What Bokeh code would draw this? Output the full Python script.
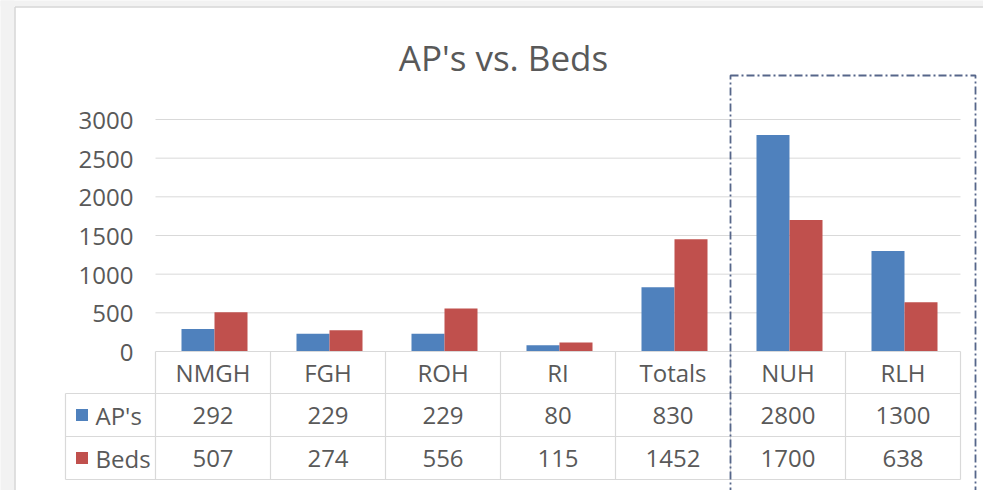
from bokeh.plotting import figure
from bokeh.models import Range1d, ColumnDataSource
from bokeh.core.properties import value
from bokeh.embed import file_html
from bokeh.resources import INLINE

# ---------------- data ----------------
categories = ["NMGH", "FGH", "ROH", "RI", "Totals", "NUH", "RLH"]
aps = [292, 229, 229, 80, 830, 2800, 1300]
beds = [507, 274, 556, 115, 1452, 1700, 638]
series_names = ["AP's", "Beds"]
y_ticks = [0, 500, 1000, 1500, 2000, 2500, 3000]
title_text = "AP's vs. Beds"

# ---------------- style / layout ----------------
BLUE = "#4F81BD"
RED = "#C0504D"
TXT = "#595959"
GRID = "#d9d9d9"
BOX = "#56668a"
FONT = value("Open Sans")
FS = "24px"
SHIFT = 8.0   # baseline correction (px) for 24px text
TSHIFT = 13.0  # for title

W, H = 983, 490
ORIGIN = 0  # page position of figure's top-left corner
X0_PX, CAT_PX = 155.0, 115.0        # left of plot area, width of one category
Y0_PX, YMAX_PX, YMAX = 351.0, 119.0, 3000.0
PX_PER_UNIT = (Y0_PX - YMAX_PX) / YMAX


def xd(px):
    return (px - X0_PX) / CAT_PX


def yd(px):
    return (Y0_PX - px) / PX_PER_UNIT


p = figure(width=W, height=H, output_backend="svg", toolbar_location=None,
           x_range=Range1d(xd(ORIGIN), xd(ORIGIN + W)),
           y_range=Range1d(yd(ORIGIN + H), yd(ORIGIN)),
           min_border=0, x_axis_location=None, y_axis_location=None)
p.xgrid.visible = False
p.ygrid.visible = False
p.outline_line_color = None
p.background_fill_color = "white"
p.border_fill_color = "white"

n = len(categories)

# window frame strips (gray surround of the chart area)
p.quad(left=[xd(-5), xd(-5)], right=[xd(1100), xd(14)], top=[yd(-5), yd(-5)],
       bottom=[yd(6), yd(600)], fill_color="#f2f2f2", line_color=None)
p.segment(x0=[xd(14.5), xd(14.5)], x1=[xd(1100), xd(14.5)], y0=[yd(6.5), yd(6.5)],
          y1=[yd(6.5), yd(600)], line_color="#d6d6d6", line_width=1.5)

# gridlines
grid_y = [t for t in y_ticks if t > 0]
p.segment(x0=[0] * len(grid_y), x1=[n] * len(grid_y), y0=grid_y, y1=grid_y,
          line_color=GRID, line_width=1)

# y tick labels (right aligned)
p.text(x=[xd(133)] * len(y_ticks), y=[t - (9 - SHIFT) / PX_PER_UNIT for t in y_ticks],
       text=[str(t) for t in y_ticks], text_align="right", text_baseline="alphabetic",
       text_font=FONT, text_font_size=FS, text_color=TXT)

# bars
bw = 0.287
gc = 0.513
src = ColumnDataSource(dict(
    xa=[i + gc - bw / 2 for i in range(n)],
    xb=[i + gc + bw / 2 for i in range(n)],
    aps=aps, beds=beds))
p.vbar(x="xa", top="aps", bottom=0, width=bw, source=src, fill_color=BLUE, line_color=None)
p.vbar(x="xb", top="beds", bottom=0, width=bw, source=src, fill_color=RED, line_color=None)

# data table
row_px = [351, 393, 436, 479]
left_px = 65
ry = [yd(v) for v in row_px]
p.segment(x0=[0], x1=[n], y0=[ry[0]], y1=[ry[0]], line_color=GRID, line_width=1.2)
p.segment(x0=[xd(left_px)] * 3, x1=[n] * 3, y0=ry[1:], y1=ry[1:], line_color=GRID, line_width=1.2)
p.segment(x0=list(range(n + 1)), x1=list(range(n + 1)), y0=[ry[0]] * (n + 1), y1=[ry[3]] * (n + 1),
          line_color=GRID, line_width=1.2)
p.segment(x0=[xd(left_px)], x1=[xd(left_px)], y0=[ry[1]], y1=[ry[3]], line_color=GRID, line_width=1.2)

cx = [i + 0.5 for i in range(n)]
p.text(x=cx, y=[yd(380 - SHIFT)] * n, text=categories, text_align="center", text_baseline="alphabetic",
       text_font=FONT, text_font_size=FS, text_color=TXT)
p.text(x=cx, y=[yd(423 - SHIFT)] * n, text=[str(v) for v in aps], text_align="center",
       text_baseline="alphabetic", text_font=FONT, text_font_size=FS, text_color=TXT)
p.text(x=cx, y=[yd(466 - SHIFT)] * n, text=[str(v) for v in beds], text_align="center",
       text_baseline="alphabetic", text_font=FONT, text_font_size=FS, text_color=TXT)

# legend keys in table
p.scatter(x=[xd(81.5)] * 2, y=[yd(414.5), yd(457.5)], marker="square", size=12,
          fill_color=[BLUE, RED], line_color=None)
p.text(x=[xd(95)] * 2, y=[yd(423 - SHIFT), yd(466 - SHIFT)], text=series_names, text_align="left",
       text_baseline="alphabetic", text_font=FONT, text_font_size=FS, text_color=TXT)

# title
p.text(x=[xd(503)], y=[yd(70 - TSHIFT)], text=[title_text], text_align="center",
       text_baseline="alphabetic", text_font=FONT, text_font_size="35px", text_color=TXT)

# dash-dot highlight box around NUH / RLH
p.quad(left=[xd(730)], right=[xd(975)], top=[yd(75)], bottom=[yd(600)],
       fill_color=None, line_color=BOX, line_width=1.8, line_dash="8 3 2 3")

open("out.html", "w").write(file_html(p, INLINE))
